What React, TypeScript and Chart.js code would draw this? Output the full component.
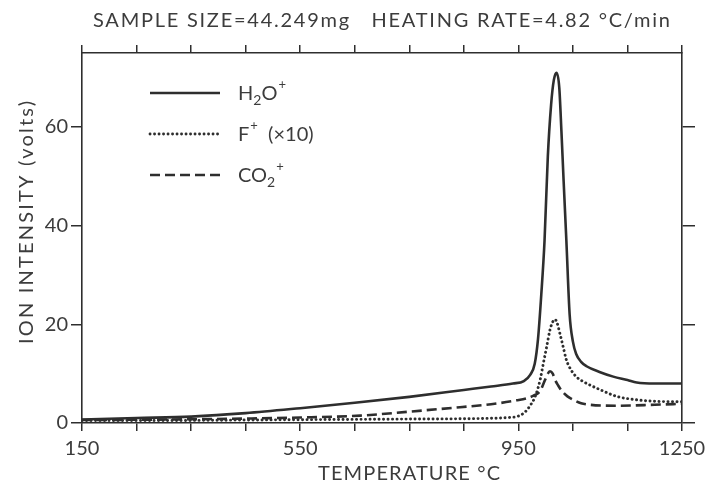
import React, { useEffect, useRef } from 'react';
import { Chart, registerables } from 'chart.js';

Chart.register(...registerables);

// ---- data ----
const tempH2O = [150, 250, 350, 450, 550, 650, 750, 850, 900, 940, 960, 972, 980, 986, 992, 998, 1004, 1010, 1015, 1020, 1025, 1029, 1033, 1038, 1044, 1050, 1056, 1065, 1075, 1100, 1124, 1150, 1167, 1200, 1250];
const ionH2O = [0.7, 1.0, 1.3, 2.0, 3.0, 4.1, 5.3, 6.7, 7.4, 8.0, 8.5, 9.8, 12.0, 17.0, 26.0, 37.0, 54.0, 64.5, 69.5, 71.0, 68.0, 59.0, 49.0, 37.0, 22.0, 16.5, 14.0, 12.4, 11.5, 10.3, 9.4, 8.7, 8.2, 8.0, 8.0];

const tempF = [150, 300, 450, 600, 750, 900, 930, 950, 962, 972, 981, 990, 996, 1002, 1008, 1013, 1017, 1021, 1026, 1032, 1038, 1048, 1058, 1069, 1085, 1100, 1130, 1160, 1200, 1250];
const ionF = [0.5, 0.5, 0.6, 0.7, 0.8, 0.95, 1.1, 1.4, 2.2, 3.6, 5.4, 8.8, 12.2, 15.5, 18.9, 20.5, 21.0, 20.3, 18.2, 15.5, 12.8, 10.5, 9.2, 8.4, 7.5, 6.75, 5.4, 4.8, 4.4, 4.3];

const tempCO2 = [150, 300, 450, 550, 660, 750, 843, 900, 947, 965, 977, 990, 1000, 1008, 1013, 1017, 1023, 1029, 1040, 1051, 1065, 1081, 1130, 1200, 1250];
const ionCO2 = [0.6, 0.7, 0.9, 1.1, 1.5, 2.3, 3.2, 3.8, 4.6, 5.0, 5.5, 6.5, 9.0, 10.5, 10.0, 8.8, 7.6, 6.6, 5.4, 4.7, 4.0, 3.7, 3.5, 3.7, 3.9];

const xTickValues = [150, 250, 350, 450, 550, 650, 750, 850, 950, 1050, 1150, 1250];
const xLabelValues = [150, 550, 950, 1250];
const yTickValues = [0, 20, 40, 60];

const titleText = 'SAMPLE SIZE=44.249mg   HEATING RATE=4.82 \u00B0C/min';
const xTitleText = 'TEMPERATURE \u00B0C';
const yTitleText = 'ION INTENSITY (volts)';

type Seg = { t: string; sub?: boolean; sup?: boolean };
const legendLabels: Seg[][] = [
  [{ t: 'H' }, { t: '2', sub: true }, { t: 'O' }, { t: '+', sup: true }],
  [{ t: 'F' }, { t: '+', sup: true }, { t: '  (\u00D710)' }],
  [{ t: 'CO' }, { t: '2', sub: true }, { t: '+', sup: true }],
];

const FONT = 'Lato, "DejaVu Sans", sans-serif';
const INK = '#2e2e2e';
const TEXT = '#3c3c3c';

const dashSolid: number[] = [];
const dashDotted = [0.1, 4.4];
const dashDashed = [10, 5];
const lineStyles = [dashSolid, dashDotted, dashDashed];

function drawSpaced(ctx: CanvasRenderingContext2D, text: string, x: number, y: number, width: number) {
  (ctx as any).letterSpacing = '0px';
  const w = ctx.measureText(text).width;
  const ls = (width - w) / Math.max(1, text.length - 1);
  (ctx as any).letterSpacing = ls + 'px';
  ctx.textAlign = 'left';
  ctx.fillText(text, x, y);
  (ctx as any).letterSpacing = '0px';
}

const overlayPlugin = {
  id: 'overlay',
  afterDraw(chart: any) {
    const ctx: CanvasRenderingContext2D = chart.ctx;
    const area = chart.chartArea;
    ctx.save();
    ctx.fillStyle = TEXT;
    ctx.textBaseline = 'alphabetic';

    // title
    ctx.font = `20px ${FONT}`;
    drawSpaced(ctx, titleText, 93, 27, 577);

    // x title
    ctx.font = `20px ${FONT}`;
    drawSpaced(ctx, xTitleText, 318, 480, 182);

    // y title
    ctx.save();
    ctx.translate(33, 344);
    ctx.rotate(-Math.PI / 2);
    drawSpaced(ctx, yTitleText, 0, 0, 243);
    ctx.restore();

    // legend
    const lx0 = area.left + 68;
    const lx1 = area.left + 138;
    const tx = area.left + 156;
    const ys = [area.top + 40, area.top + 81, area.top + 122];
    legendLabels.forEach((segs, i) => {
      const y = ys[i];
      ctx.save();
      ctx.strokeStyle = INK;
      ctx.lineWidth = i === 1 ? 2.8 : 2.5;
      ctx.lineCap = i === 1 ? 'round' : 'butt';
      ctx.setLineDash(lineStyles[i]);
      ctx.beginPath();
      ctx.moveTo(lx0, y);
      ctx.lineTo(lx1, y);
      ctx.stroke();
      ctx.restore();
      let x = tx;
      const base = y + 7;
      segs.forEach((s) => {
        if (s.sub) {
          ctx.font = `14px ${FONT}`;
          ctx.fillText(s.t, x, base + 5);
        } else if (s.sup) {
          ctx.font = `13px ${FONT}`;
          ctx.fillText(s.t, x + 1, base - 11);
        } else {
          ctx.font = `20px ${FONT}`;
          ctx.fillText(s.t, x, base);
        }
        x += ctx.measureText(s.t).width + (s.sup ? 1 : 0);
      });
    });
    ctx.restore();
  },
};

const axisLine = { color: INK, width: 1.6 };

export default function App() {
  const ref = useRef<HTMLCanvasElement | null>(null);
  useEffect(() => {
    document.body.style.margin = '0';
    const canvas = ref.current;
    if (!canvas) return;
    const mk = (t: number[], v: number[]) => t.map((x, i) => ({ x, y: v[i] }));
    const chart = new Chart(canvas, {
      type: 'line',
      data: {
        datasets: [
          { label: 'H2O+', data: mk(tempH2O, ionH2O), borderColor: INK, borderWidth: 2.6, borderDash: dashSolid, pointRadius: 0, cubicInterpolationMode: 'monotone', fill: false },
          { label: 'F+ (x10)', data: mk(tempF, ionF), borderColor: INK, borderWidth: 2.9, borderDash: dashDotted, borderCapStyle: 'round', pointRadius: 0, cubicInterpolationMode: 'monotone', fill: false },
          { label: 'CO2+', data: mk(tempCO2, ionCO2), borderColor: INK, borderWidth: 2.6, borderDash: dashDashed, pointRadius: 0, cubicInterpolationMode: 'monotone', fill: false },
        ],
      },
      options: {
        animation: false,
        responsive: false,
        devicePixelRatio: 1,
        layout: { padding: 0 },
        plugins: { legend: { display: false }, title: { display: false }, tooltip: { enabled: false } },
        scales: {
          x: {
            type: 'linear', position: 'bottom', min: 150, max: 1250,
            afterBuildTicks: (s: any) => { s.ticks = xTickValues.map((v) => ({ value: v })); },
            afterFit: (s: any) => { s.height = 60; },
            ticks: {
              autoSkip: false, maxRotation: 0, padding: 6, color: TEXT,
              font: { family: FONT, size: 20 },
              callback: (v: any) => (xLabelValues.includes(Number(v)) ? String(v) : ''),
            },
            grid: { drawOnChartArea: false, drawTicks: true, tickLength: 8, color: INK, lineWidth: 1.5 },
            border: axisLine,
          },
          xTop: {
            type: 'linear', position: 'top', min: 150, max: 1250,
            afterBuildTicks: (s: any) => { s.ticks = xTickValues.map((v) => ({ value: v })); },
            afterFit: (s: any) => { s.height = 53; },
            ticks: { display: false },
            grid: { drawOnChartArea: false, drawTicks: true, tickLength: 8, color: INK, lineWidth: 1.5 },
            border: axisLine,
          },
          y: {
            type: 'linear', position: 'left', min: 0, max: 75,
            afterBuildTicks: (s: any) => { s.ticks = yTickValues.map((v) => ({ value: v })); },
            afterFit: (s: any) => { s.width = 82; },
            ticks: { padding: 3, color: TEXT, font: { family: FONT, size: 20 } },
            grid: { drawOnChartArea: false, drawTicks: true, tickLength: 11, color: INK, lineWidth: 1.5 },
            border: axisLine,
          },
          yRight: {
            type: 'linear', position: 'right', min: 0, max: 75,
            afterBuildTicks: (s: any) => { s.ticks = yTickValues.map((v) => ({ value: v })); },
            afterFit: (s: any) => { s.width = 33; },
            ticks: { display: false },
            grid: { drawOnChartArea: false, drawTicks: true, tickLength: 13, color: INK, lineWidth: 1.5 },
            border: axisLine,
          },
        },
      } as any,
      plugins: [overlayPlugin],
    });
    return () => chart.destroy();
  }, []);
  return (
    <div style={{ width: 715, height: 483, background: '#fff' }}>
      <canvas ref={ref} width={715} height={483} style={{ display: 'block' }} />
    </div>
  );
}
